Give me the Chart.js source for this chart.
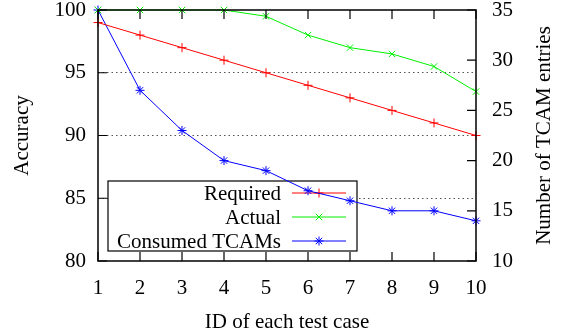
<!DOCTYPE html>
<html>
<head>
<meta charset="utf-8">
<script src="https://cdn.jsdelivr.net/npm/chart.js@4/dist/chart.umd.min.js"></script>
<style>
  html, body { margin: 0; padding: 0; background: #fff; }
  #wrap { width: 563px; height: 336px; position: relative; }
</style>
</head>
<body>
<div id="wrap"><canvas id="c" width="563" height="336"></canvas></div>
<script>
const testIds = ['1','2','3','4','5','6','7','8','9','10'];
const required = [99, 98, 97, 96, 95, 94, 93, 92, 91, 90];
const actual = [100, 100, 100, 100, 99.5, 98, 97, 96.5, 95.5, 93.5];
const consumedTcams = [35, 27, 23, 20, 19, 17, 16, 15, 15, 14];
const accuracyTicks = [80, 85, 90, 95, 100];
const tcamTicks = [10, 15, 20, 25, 30, 35];

const FONT = "'Liberation Serif', 'Times New Roman', serif";
const FS = 21;

const deco = {
  id: 'deco',
  beforeDatasetsDraw(chart) {
    const ctx = chart.ctx;
    const bx = 108, by = 181, bw = 249, bh = 70;
    ctx.save();
    ctx.fillStyle = '#fff';
    ctx.fillRect(bx, by, bw, bh);
    ctx.strokeStyle = '#000';
    ctx.lineWidth = 1.2;
    ctx.strokeRect(bx, by, bw, bh);
    ctx.font = FS + 'px ' + FONT;
    ctx.textAlign = 'right';
    ctx.textBaseline = 'middle';
    ctx.fillStyle = '#000';
    chart.data.datasets.forEach((ds, i) => {
      const cy = 193 + i * 24;
      ctx.fillText(ds.label, 281, cy + 1);
      ctx.strokeStyle = ds.borderColor;
      ctx.lineWidth = 1;
      ctx.beginPath();
      ctx.moveTo(292, cy); ctx.lineTo(346, cy);
      ctx.stroke();
      Chart.helpers.drawPoint(ctx, {pointStyle: ds.pointStyle, radius: 4.5, rotation: 0, borderWidth: 1}, 319, cy);
    });
    ctx.restore();
  },
  afterDatasetsDraw(chart) {
    const ctx = chart.ctx;
    const a = chart.chartArea;
    const x = chart.scales.x, y = chart.scales.y, y2 = chart.scales.y2;
    ctx.save();
    ctx.strokeStyle = '#000';
    ctx.lineWidth = 1.5;
    ctx.strokeRect(a.left, a.top, a.right - a.left, a.bottom - a.top);
    const L = 9;
    ctx.lineWidth = 1.2;
    ctx.beginPath();
    testIds.forEach((t, i) => {
      const px = x.getPixelForValue(i);
      ctx.moveTo(px, a.bottom); ctx.lineTo(px, a.bottom - L);
      ctx.moveTo(px, a.top); ctx.lineTo(px, a.top + L);
    });
    accuracyTicks.forEach(v => {
      const py = y.getPixelForValue(v);
      ctx.moveTo(a.left, py); ctx.lineTo(a.left + L, py);
    });
    tcamTicks.forEach(v => {
      const py = y2.getPixelForValue(v);
      ctx.moveTo(a.right, py); ctx.lineTo(a.right - L, py);
    });
    ctx.stroke();
    ctx.fillStyle = '#000';
    ctx.font = FS + 'px ' + FONT;
    ctx.textAlign = 'center';
    ctx.textBaseline = 'alphabetic';
    ctx.fillText('ID of each test case', (a.left + a.right) / 2, 328);
    ctx.save();
    ctx.translate(28, (a.top + a.bottom) / 2);
    ctx.rotate(-Math.PI / 2);
    ctx.fillText('Accuracy', 0, 0);
    ctx.restore();
    ctx.save();
    ctx.translate(550, (a.top + a.bottom) / 2);
    ctx.rotate(-Math.PI / 2);
    ctx.fillText('Number of TCAM entries', 0, 0);
    ctx.restore();
    ctx.restore();
  }
};

new Chart(document.getElementById('c'), {
  type: 'line',
  data: {
    labels: testIds,
    datasets: [
      { label: 'Required', data: required, yAxisID: 'y', borderColor: '#ff0000', backgroundColor: '#ff0000',
        pointStyle: 'cross', pointRadius: 4.5, pointBorderWidth: 1, borderWidth: 1, clip: false },
      { label: 'Actual', data: actual, yAxisID: 'y', borderColor: '#00f000', backgroundColor: '#00f000',
        pointStyle: 'crossRot', pointRadius: 4.5, pointBorderWidth: 1, borderWidth: 1, clip: false },
      { label: 'Consumed TCAMs', data: consumedTcams, yAxisID: 'y2', borderColor: '#0000ff', backgroundColor: '#0000ff',
        pointStyle: 'star', pointRadius: 4.5, pointBorderWidth: 1, borderWidth: 1, clip: false }
    ]
  },
  options: {
    responsive: false,
    animation: false,
    devicePixelRatio: 1,
    layout: { padding: { top: 10, left: 0, right: 0, bottom: 0 } },
    plugins: { legend: { display: false }, tooltip: { enabled: false } },
    elements: { line: { tension: 0 } },
    scales: {
      x: {
        type: 'category', offset: false,
        grid: { display: false, drawTicks: false },
        border: { display: false },
        ticks: { padding: 15, color: '#000', font: { family: FONT, size: FS }, maxRotation: 0, autoSkip: false },
        afterFit(s) { s.height = 75; s.paddingLeft = 0; s.paddingRight = 0; }
      },
      y: {
        position: 'left', min: 80, max: 100,
        afterBuildTicks(s) { s.ticks = accuracyTicks.map(v => ({ value: v })); },
        grid: {
          drawTicks: false, lineWidth: 1,
          color: c => (c.tick && (c.tick.value === 80 || c.tick.value === 100)) ? 'rgba(0,0,0,0)' : '#555'
        },
        border: { display: false, dash: [1.5, 3] },
        ticks: { padding: 12, color: '#000', font: { family: FONT, size: FS } },
        afterFit(s) { s.width = 98; s.paddingTop = 0; s.paddingBottom = 0; }
      },
      y2: {
        position: 'right', min: 10, max: 35,
        afterBuildTicks(s) { s.ticks = tcamTicks.map(v => ({ value: v })); },
        grid: { display: false, drawTicks: false },
        border: { display: false },
        ticks: { padding: 16, color: '#000', font: { family: FONT, size: FS } },
        afterFit(s) { s.width = 87; s.paddingTop = 0; s.paddingBottom = 0; }
      }
    }
  },
  plugins: [deco]
});
</script>
</body>
</html>
